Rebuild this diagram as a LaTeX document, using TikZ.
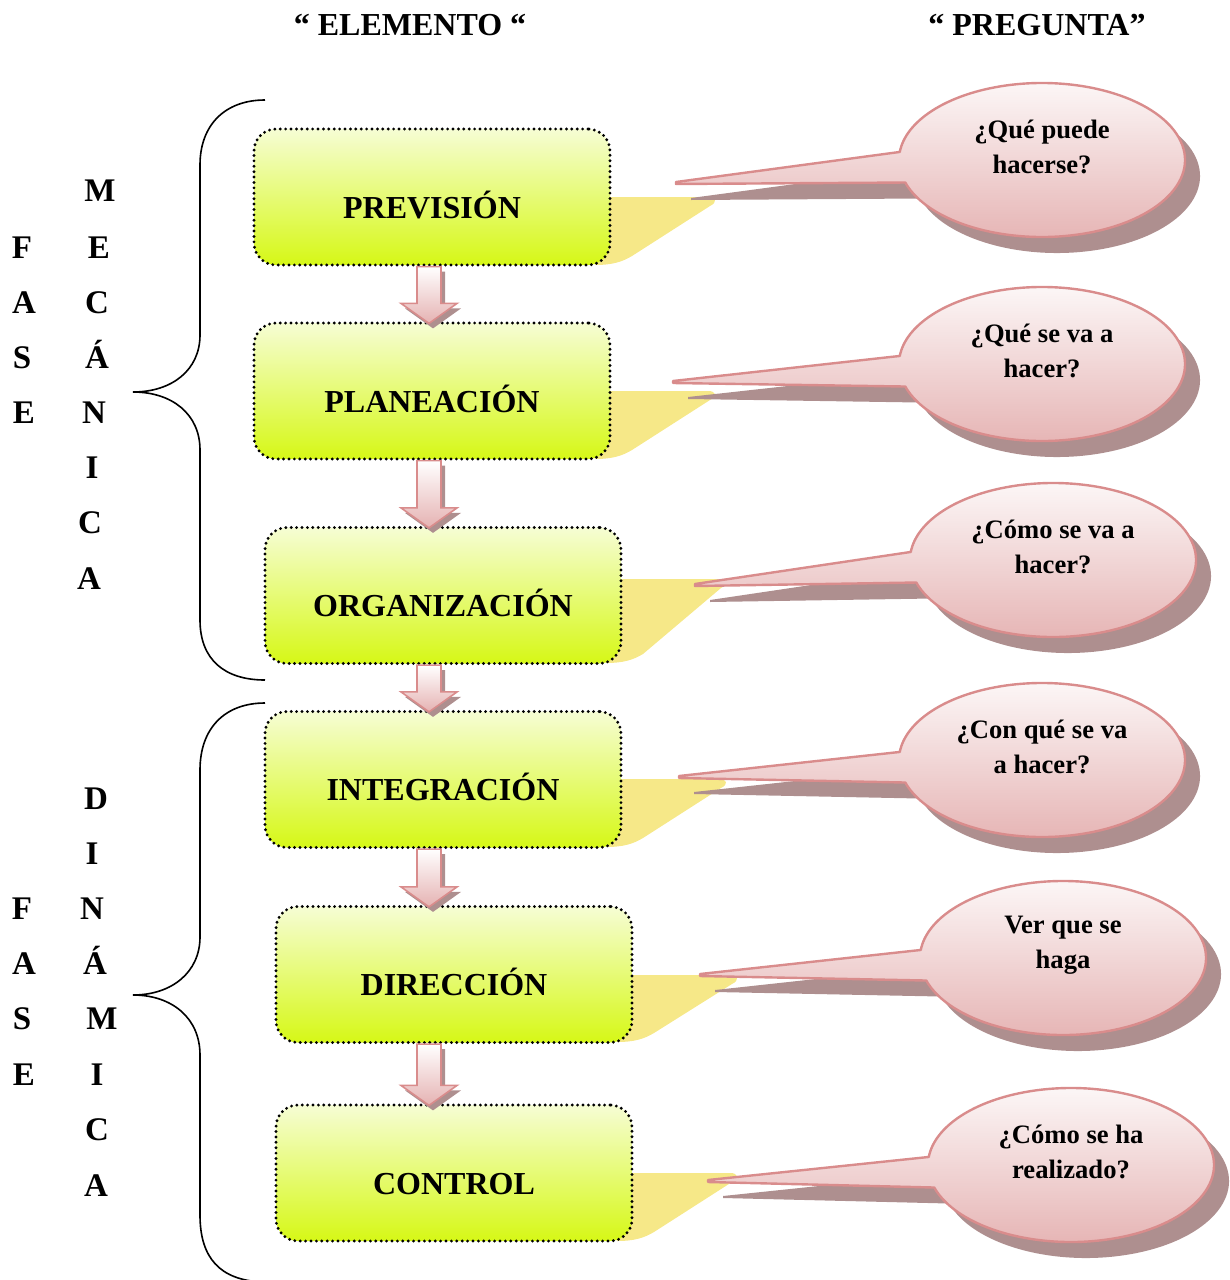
\documentclass[tikz,border=0pt]{standalone}
\usepackage{fontspec}
\setmainfont{Liberation Serif}
\usetikzlibrary{calc}

\definecolor{boxtop}{RGB}{246,253,212}
\definecolor{boxmid}{RGB}{232,250,150}
\definecolor{boxbot}{RGB}{214,248,22}
\definecolor{tabyellow}{RGB}{246,232,136}
\definecolor{pinkedge}{RGB}{217,140,140}
\definecolor{pinktop}{RGB}{253,250,250}
\definecolor{pinkbot}{RGB}{229,178,178}
\definecolor{shadowc}{RGB}{174,143,143}

% yellow flap behind the right side of a box: #1 right x, #2 bottom y, #3 top y
\newcommand\yellowtab[3]{%
  \fill[tabyellow] (#1-30,#3) -- (#1+98,#3)
    .. controls (#1+106,#3) and (#1+108,#3+5) .. (#1+100,#3+9)
    -- (#1+22,#2-9)
    .. controls (#1+12,#2-3) and (#1+2,#2) .. (#1-15,#2) -- cycle;
}

% speech bubble: #1 name, #2 cx, #3 cy, #4 tip x, #5 tip y, #6 text
\newcommand\bubble[6]{%
  \path[bubbleshape] (#2,#3) ++(197:71.5pt and 38.5pt)
    arc[start angle=197, end angle=534, x radius=71.5pt, y radius=38.5pt]
    -- (#4,#5) -- (#4,#5+2) -- cycle;
  \node[qtext] (#1) at (#2,#3-13) {#6};
}

\begin{document}
\begin{tikzpicture}[x=0.5pt,y=-0.5pt,
  elbox/.style={rectangle, rounded corners=11pt, minimum width=178pt,
    minimum height=68pt, inner sep=0pt, draw=black, line width=1.6pt,
    dash pattern=on 0pt off 2.7pt, line cap=round,
    top color=boxtop, middle color=boxmid, bottom color=boxbot},
  eltext/.style={font=\bfseries\fontsize{16}{19}\selectfont,
    text height=11.5pt, text depth=0pt, inner sep=0pt},
  header/.style={font=\bfseries\fontsize{16}{19}\selectfont, inner sep=0pt},
  letter/.style={font=\bfseries\fontsize{16.5}{19}\selectfont,
    text height=11pt, text depth=0pt, inner sep=0pt},
  qtext/.style={font=\bfseries\fontsize{13.3}{17.5}\selectfont,
    align=center, inner sep=0pt},
  bubbleshape/.style={draw=pinkedge, line width=1.2pt, line join=round,
    top color=pinktop, bottom color=pinkbot,
    preaction={fill=shadowc, transform canvas={shift={(7.5pt,-8pt)}}}},
  brace/.style={draw=black, line width=0.8pt},
  blockarrow/.style={draw=pinkedge, line width=0.8pt, line join=miter,
    top color=white, bottom color=pinkbot,
    preaction={fill=shadowc, transform canvas={shift={(2pt,-2.5pt)}}},
    to path={let \p1=(\tikztostart), \p2=(\tikztotarget) in
      (\x1-6pt,\y1) -- (\x1-6pt,\y2+9pt) -- (\x1-14pt,\y2+9pt)
      -- (\x2,\y2-1pt) -- (\x1+14pt,\y2+9pt) -- (\x1+6pt,\y2+9pt)
      -- (\x1+6pt,\y1) -- cycle}}
]
\useasboundingbox (0,0) rectangle (1230,1280);

% column headers
\node[header] (hel) at (410,25) {“ ELEMENTO “};
\node[header] (hpr) at (1037,25) {“ PREGUNTA”};

% flaps behind the boxes
\yellowtab{610}{265}{197}
\yellowtab{610}{459}{391}
\yellowtab{621}{663}{579}
\yellowtab{621}{847}{779}
\yellowtab{632}{1042}{975}
\yellowtab{632}{1241}{1173}

% elements
\node[elbox] (prev) at (432,197) {};
\node[elbox] (plan) at (432,391) {};
\node[elbox] (orga) at (443,595.5) {};
\node[elbox] (inte) at (443,779.5) {};
\node[elbox] (dire) at (454,974.5) {};
\node[elbox] (cont) at (454,1173) {};

\node[eltext] (prevt) at ([yshift=-4.8pt]prev.center) {PREVISIÓN};
\node[eltext] (plant) at ([yshift=-4.8pt]plan.center) {PLANEACIÓN};
\node[eltext] (orgat) at ([yshift=-4.8pt]orga.center) {ORGANIZACIÓN};
\node[eltext] (intet) at ([yshift=-4.8pt]inte.center) {INTEGRACIÓN};
\node[eltext] (diret) at ([yshift=-4.8pt]dire.center) {DIRECCIÓN};
\node[eltext] (contt) at ([yshift=-4.8pt]cont.center) {CONTROL};

% block arrows between the elements
\coordinate (ax) at (429,0);
\draw[blockarrow] (prev.south -| ax) to (plan.north -| ax);
\draw[blockarrow] (plan.south -| ax) to (orga.north -| ax);
\draw[blockarrow] (orga.south -| ax) to (inte.north -| ax);
\draw[blockarrow] (inte.south -| ax) to (dire.north -| ax);
\draw[blockarrow] (dire.south -| ax) to (cont.north -| ax);

% questions
\bubble{q1}{1042}{160}{676}{182}{¿Qué puede\\hacerse?}
\bubble{q2}{1042}{364}{673}{381}{¿Qué se va a\\hacer?}
\bubble{q3}{1053}{560}{695}{584}{¿Cómo se va a\\hacer?}
\bubble{q4}{1042}{760}{679}{776}{¿Con qué se va\\a hacer?}
\bubble{q5}{1063}{958}{700}{974}{Ver que se\\haga}
\bubble{q6}{1071}{1165}{708}{1180}{¿Cómo se ha\\realizado?}

% braces
\draw[brace] (265,100) .. controls (225,100) and (200,125) .. (200,165)
  -- (200,335) .. controls (200,370) and (172,392) .. (133,392)
  .. controls (172,392) and (200,414) .. (200,450)
  -- (200,620) .. controls (200,660) and (225,680) .. (265,680);
\draw[brace] (265,703) .. controls (225,703) and (200,728) .. (200,770)
  -- (200,937) .. controls (200,972) and (172,995) .. (133,995)
  .. controls (172,995) and (200,1018) .. (200,1055)
  -- (200,1215) .. controls (200,1258) and (220,1280) .. (262,1282);

% vertical labels
\node[letter] (f1) at (22,247) {F};
\node[letter] (a1) at (24,302) {A};
\node[letter] (s1) at (22,357) {S};
\node[letter] (e1) at (24,412) {E};

\node[letter] (m1) at (100,190) {M};
\node[letter] (m2) at (99,247) {E};
\node[letter] (m3) at (97,302) {C};
\node[letter] (m4) at (97,357) {Á};
\node[letter] (m5) at (94,412) {N};
\node[letter] (m6) at (92,467) {I};
\node[letter] (m7) at (90,522) {C};
\node[letter] (m8) at (89,578) {A};

\node[letter] (f2) at (22,908) {F};
\node[letter] (a2) at (24,963) {A};
\node[letter] (s2) at (22,1018) {S};
\node[letter] (e2) at (24,1074) {E};

\node[letter] (d1) at (96,798) {D};
\node[letter] (d2) at (92,853) {I};
\node[letter] (d3) at (92,908) {N};
\node[letter] (d4) at (95,963) {Á};
\node[letter] (d5) at (102,1018) {M};
\node[letter] (d6) at (97,1074) {I};
\node[letter] (d7) at (97,1129) {C};
\node[letter] (d8) at (96,1185) {A};
\end{tikzpicture}
\end{document}
